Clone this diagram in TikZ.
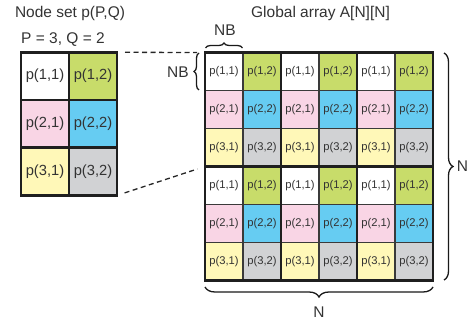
\documentclass[tikz,border=0pt]{standalone}
\usepackage{fontspec}
\setmainfont{Liberation Sans}
\usetikzlibrary{decorations.pathreplacing}
\definecolor{cgreen}{HTML}{C8DC6A}
\definecolor{cblue}{HTML}{66CCF2}
\definecolor{cpink}{HTML}{F9D5E5}
\definecolor{cyellow}{HTML}{FFF8B8}
\definecolor{cgray}{HTML}{D1D2D4}
\definecolor{cwhite}{HTML}{FFFFFF}
\definecolor{txt}{HTML}{333333}
\definecolor{thinline}{HTML}{3A3A3A}
\tikzset{
  smallcell/.style={draw=thinline, line width=1.3pt, minimum width=38pt, minimum height=38pt, inner sep=0pt, outer sep=0pt, text=txt, font=\fontsize{11.2}{13}\selectfont},
  bigcell/.style={draw=none, minimum width=48pt, minimum height=47.7pt, inner sep=0pt, outer sep=0pt, text=txt, font=\fontsize{14.7}{17}\selectfont},
  thickframe/.style={draw=black!88, line width=2.8pt},
  lbl/.style={text=txt, inner sep=0pt, font=\fontsize{15.5}{18}\selectfont},
  dashconn/.style={dashed, dash pattern=on 5pt off 3.5pt, line width=1.3pt, draw=black!85},
  bracestyle/.style={decorate, line width=1.3pt, draw=black!90}
}
\begin{document}
\begin{tikzpicture}[x=1pt,y=-1pt]
\useasboundingbox (0,0) rectangle (469,323);
% left node set
\foreach \r/\ca/\cb in {1/cwhite/cgreen,2/cpink/cblue,3/cyellow/cgray}{
  \node[bigcell, fill=\ca] (L\r1) at ({21+24}, {52.3+47.7*(\r-1)+23.85}) {p(\r,1)};
  \node[bigcell, fill=\cb] (L\r2) at ({21+48+24}, {52.3+47.7*(\r-1)+23.85}) {p(\r,2)};
}
\draw[thickframe] (L11.north east) -- (L31.south east);
\draw[thickframe] (L11.south west) -- (L12.south east);
\draw[thickframe] (L21.south west) -- (L22.south east);
\draw[thickframe] (L11.north west) rectangle (L32.south east);
% global array
\foreach \R in {0,1}{
  \foreach \r/\ca/\cb in {1/cwhite/cgreen,2/cpink/cblue,3/cyellow/cgray}{
    \foreach \C in {0,1,2}{
      \pgfmathtruncatemacro{\gr}{\R*3+\r}
      \pgfmathtruncatemacro{\gca}{\C*2+1}
      \pgfmathtruncatemacro{\gcb}{\C*2+2}
      \node[smallcell, fill=\ca] (B\gr-\gca) at ({205+38*(\gca-1)+19}, {52.5+38*(\gr-1)+19}) {p(\r,1)};
      \node[smallcell, fill=\cb] (B\gr-\gcb) at ({205+38*(\gcb-1)+19}, {52.5+38*(\gr-1)+19}) {p(\r,2)};
    }
  }
}
\foreach \a/\b in {1/3,4/6}{
  \foreach \c/\d in {1/2,3/4,5/6}{
    \draw[thickframe] (B\a-\c.north west) rectangle (B\b-\d.south east);
  }
}
% titles
\node[lbl] (t1) at (70,13) {Node set p(P,Q)};
\node[lbl] (t2) at (63,40) {P = 3, Q = 2};
\node[lbl] (t3) at (320.5,13) {Global array A[N][N]};
% dashed connectors
\draw[dashconn, shorten <=8pt, shorten >=8pt] (L12.north east) -- (B1-1.north west);
\draw[dashconn, shorten <=8pt, shorten >=8pt] (L32.south east) -- (B4-1.north west);
% braces
\coordinate (tb1) at (205.5,48);
\coordinate (tb2) at (242.5,48);
\draw[bracestyle, decoration={brace, amplitude=5pt}] (tb1) -- (tb2);
\node[lbl] (nbtop) at (225,30) {NB};
\coordinate (lb1) at (199,90);
\coordinate (lb2) at (199,53);
\draw[bracestyle, decoration={brace, amplitude=5pt}] (lb1) -- (lb2);
\node[lbl] (nbleft) at (178,72) {NB};
\coordinate (rb1) at (444,53);
\coordinate (rb2) at (444,280);
\draw[bracestyle, decoration={brace, amplitude=9pt}] (rb1) -- (rb2);
\node[lbl] (nright) at (462.5,166.5) {N};
\coordinate (bb1) at (433,287);
\coordinate (bb2) at (205,287);
\draw[bracestyle, decoration={brace, amplitude=10pt}] (bb1) -- (bb2);
\node[lbl] (nbottom) at (319,312) {N};
\end{tikzpicture}
\end{document}
